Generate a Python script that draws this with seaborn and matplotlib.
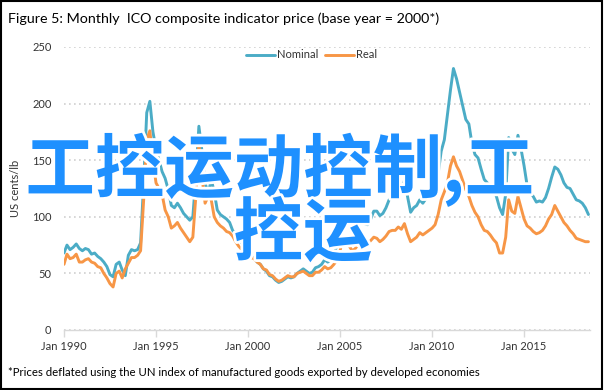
import matplotlib
matplotlib.use('Agg')
import matplotlib.pyplot as plt
import matplotlib.dates as mdates
import matplotlib.patheffects as pe
from matplotlib.patches import Rectangle
import pandas as pd
import seaborn as sns

# bimonthly readings (Jan, Mar, May, Jul, Sep, Nov), Jan 1990 - Jul 2018
nominal = [
    68, 75, 71, 73, 76, 72,        # 1990
    70, 72, 71, 67, 68, 65,        # 1991
    63, 60, 56, 49, 47, 58,        # 1992
    60, 53, 48, 66, 71, 70,        # 1993
    71, 77, 130, 192, 202, 175,    # 1994
    160, 150, 140, 134, 124, 110,  # 1995
    108, 112, 108, 103, 100, 97,   # 1996
    100, 135, 180, 158, 130, 120,  # 1997
    133, 122, 106, 102, 100, 98,   # 1998
    95, 88, 85, 80, 77, 80,        # 1999
    72, 66, 64, 60, 58, 54,        # 2000
    52, 48, 47, 44, 42, 43,        # 2001
    45, 47, 46, 47, 50, 52,        # 2002
    54, 52, 50, 51, 55, 56,        # 2003
    58, 62, 60, 62, 68, 74,        # 2004
    85, 100, 95, 91, 86, 88,       # 2005
    95, 97, 94, 93, 98, 105,       # 2006
    105, 101, 103, 108, 115, 117,  # 2007
    124, 130, 126, 132, 118, 104,  # 2008
    108, 110, 115, 112, 116, 122,  # 2009
    125, 128, 138, 158, 168, 190,  # 2010
    212, 231, 222, 210, 198, 186,  # 2011
    182, 165, 155, 152, 142, 133,  # 2012
    130, 127, 124, 118, 108, 102,  # 2013
    120, 170, 160, 155, 172, 160,  # 2014
    145, 128, 122, 118, 113, 114,  # 2015
    113, 117, 125, 135, 144, 142,  # 2016
    137, 130, 126, 125, 120, 115,  # 2017
    114, 112, 108, 102,            # 2018
]

real = [
    58, 67, 63, 64, 67, 60,        # 1990
    60, 62, 63, 60, 59, 56,        # 1991
    55, 50, 46, 41, 38, 50,        # 1992
    52, 46, 54, 59, 64, 64,        # 1993
    66, 70, 115, 168, 176, 150,    # 1994
    130, 125, 120, 106, 100, 90,   # 1995
    92, 95, 90, 86, 82, 78,        # 1996
    82, 118, 165, 135, 112, 118,   # 1997
    115, 100, 95, 92, 90, 87,      # 1998
    86, 83, 78, 74, 71, 76,        # 1999
    70, 64, 63, 60, 58, 54,        # 2000
    53, 49, 48, 45, 43, 44,        # 2001
    46, 48, 47, 47, 50, 51,        # 2002
    52, 50, 48, 48, 51, 51,        # 2003
    53, 56, 54, 55, 58, 62,        # 2004
    70, 82, 78, 74, 70, 72,        # 2005
    76, 78, 77, 76, 79, 82,        # 2006
    81, 78, 80, 83, 87, 88,        # 2007
    88, 91, 89, 94, 85, 78,        # 2008
    80, 82, 86, 84, 86, 88,        # 2009
    90, 93, 102, 115, 122, 130,    # 2010
    145, 153, 145, 140, 132, 124,  # 2011
    118, 110, 104, 100, 93, 88,    # 2012
    87, 84, 80, 77, 68, 68,        # 2013
    82, 115, 105, 103, 118, 108,   # 2014
    98, 92, 90, 87, 85, 86,        # 2015
    88, 92, 98, 102, 110, 105,     # 2016
    100, 95, 92, 88, 85, 81,       # 2017
    80, 79, 78, 78,                # 2018
]

series_names = ['Nominal', 'Real']
series_colors = ['#4BACC6', '#F79646']
tick_years = [1990, 1995, 2000, 2005, 2010, 2015]
y_ticks = [0, 50, 100, 150, 200, 250]

title = 'Figure 5: Monthly  ICO composite indicator price (base year = 2000*)'
footnote = '*Prices deflated using the UN index of manufactured goods exported by developed economies'
overlay_lines = ['工控运动控制,工', '控运']

sns.set_theme(style='white')
plt.rcParams['font.family'] = ['Lato', 'Noto Sans CJK SC', 'DejaVu Sans']

dates = pd.date_range('1990-01-01', periods=len(nominal), freq='2MS')
df = pd.concat([
    pd.DataFrame({'date': dates, 'value': nominal, 'series': 'Nominal'}),
    pd.DataFrame({'date': dates, 'value': real, 'series': 'Real'}),
])

fig = plt.figure(figsize=(6.04, 3.90), dpi=100, facecolor='white')
ax = fig.add_axes([64 / 604, 1 - 330 / 390, 526 / 604, 283 / 390])

sns.lineplot(data=df, x='date', y='value', hue='series', hue_order=series_names,
             palette=series_colors, linewidth=2.1, ax=ax)

ax.set_xlim(pd.Timestamp('1990-01-01'), pd.Timestamp('2018-08-01'))
ax.set_ylim(0, 250)
ax.set_yticks(y_ticks)
ax.set_xticks([pd.Timestamp(f'{y}-01-01') for y in tick_years])
ax.xaxis.set_major_formatter(mdates.DateFormatter('%b %Y'))

ax.yaxis.grid(True, linestyle=(0, (1, 2)), color='#d0d0d0', linewidth=1.2)
ax.set_axisbelow(True)
for spine in ['top', 'right', 'left']:
    ax.spines[spine].set_visible(False)
ax.spines['bottom'].set_color('#d9d9d9')
ax.spines['bottom'].set_linewidth(1)

ax.tick_params(axis='x', which='major', length=5, width=1, color='#d9d9d9',
               direction='out', labelsize=8, labelcolor='#333333', pad=3, bottom=True)
ax.tick_params(axis='y', length=0, labelsize=8, labelcolor='#333333', pad=9)
ax.set_xlabel('')
ax.set_ylabel('US cents/lb', fontsize=8, color='#333333', labelpad=8)

ax.legend(loc='center', bbox_to_anchor=(0.471, 0.972), ncol=2, frameon=False,
          fontsize=8, handlelength=2.6, handletextpad=0.2, columnspacing=0.6,
          labelcolor='#333333')

fig.text(8 / 604, 1 - 19 / 390, title, fontsize=10.3, color='#000000', va='center', ha='left')
fig.text(8 / 604, 1 - 372 / 390, footnote, fontsize=8.2, color='#000000', va='center', ha='left')

# big watermark text on top
stroke = [pe.withStroke(linewidth=4, foreground='white')]
cjk = ['Noto Sans CJK SC', 'DejaVu Sans']
fig.text(280 / 604, 1 - 170 / 390, overlay_lines[0], fontsize=50, color='#1E90FF',
         family=cjk, fontweight='bold', ha='center', va='center', path_effects=stroke)
fig.text(303 / 604, 1 - 235 / 390, overlay_lines[1], fontsize=50, color='#1E90FF',
         family=cjk, fontweight='bold', ha='center', va='center', path_effects=stroke)

fig.patches.append(Rectangle((0.002, 0.003), 0.995, 0.994, transform=fig.transFigure,
                             fill=False, edgecolor='black', linewidth=1.5))

fig.savefig('out.png', dpi=100, facecolor='white')
